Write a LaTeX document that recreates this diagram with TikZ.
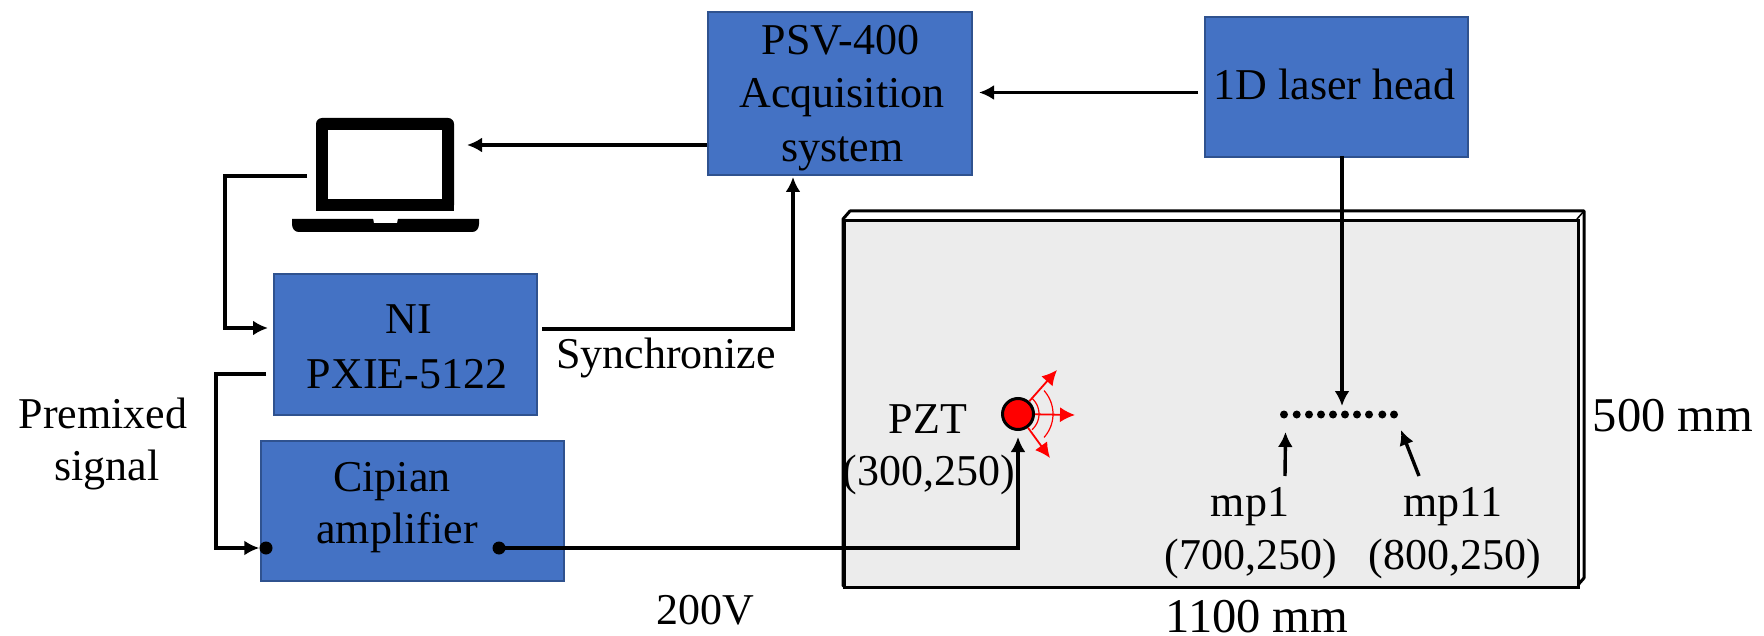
\documentclass[tikz,border=0pt]{standalone}
\usepackage{fontspec}
\setmainfont{Liberation Serif}
\usetikzlibrary{arrows.meta,calc}
\definecolor{boxblue}{HTML}{4472C4}
\definecolor{boxedge}{HTML}{2F528F}
\definecolor{plategrey}{HTML}{ECECEC}
\tikzset{
  x=1pt,y=-1pt,
  bluebox/.style={draw=boxedge,line width=1.6pt,fill=boxblue,inner sep=0pt,anchor=north west},
  lab/.style={inner sep=0pt,anchor=base,font=\fontsize{44}{44}\selectfont,text=black},
  dimlab/.style={inner sep=0pt,anchor=base,font=\fontsize{48.5}{48.5}\selectfont,text=black},
  conn/.style={line width=3.4pt,-{Latex[length=15pt,width=15pt]}},
  dotn/.style={circle,fill=black,inner sep=0pt,minimum size=#1},
  ray/.style={red,line width=1.8pt,-{Latex[length=15pt,width=15pt]}},
  wave/.style={red,line width=1.2pt},
}
\newcommand{\bx}[5]{\node[bluebox,minimum width=#4 pt,minimum height=#5 pt] (#1) at (#2,#3) {};}
\begin{document}
\begin{tikzpicture}
\useasboundingbox (0,0) rectangle (1764,636);
% plate
\filldraw[fill=white,draw=black,line width=3pt,line join=round] (843,219) -- (850,211) -- (1584,211) -- (1584,578) -- (1577,586) -- (843,586) -- cycle;
\node[draw=black,line width=3pt,fill=plategrey,inner sep=0pt,minimum width=734pt,minimum height=367pt,anchor=north west] (plate) at (843,219) {};
\draw[black,line width=1.5pt] (1577,219) -- (1584,211);
% boxes
\bx{psv}{707}{11}{264}{163}
\bx{head}{1204}{16}{263}{140}
\bx{ni}{273}{273}{263}{141}
\bx{amp}{260}{440}{303}{140}
% laptop
\fill[black,rounded corners=6pt] (316,211) -- (316,118) -- (454,118) -- (454,211) -- cycle;
\fill[black] (316,195) rectangle (454,211);
\fill[white] (328,130) rectangle (442,199);
\fill[black] (292,219) -- (479,219) -- (479,224) .. controls (479,229) and (476,232) .. (472,232) -- (299,232) .. controls (295,232) and (292,229) .. (292,224) -- cycle;
\fill[white] (373,218) -- (374,223) -- (397,223) -- (398,218) -- cycle;
% coordinates
\coordinate (lapL) at (307,176);
\coordinate (lapR) at (467,145);
\coordinate (niIn) at (268,328);
\coordinate (niOut) at (266,374);
\coordinate (niSync) at (542,329);
\coordinate (psvIn) at (793,177);
\coordinate (psvOut) at (707,145);
\coordinate (psvHead) at (979,92.5);
\coordinate (headL) at (1198,92.5);
\coordinate (headB) at (1342,156);
\coordinate (tip) at (1342,406);
\coordinate (pztTip) at (1018,437);
% connectors
\node[dotn=13pt] (ampA) at (266,548) {};
\node[dotn=13pt] (ampB) at (499,548) {};
\draw[conn] (psvOut) -- (lapR);
\draw[conn] (headL) -- (psvHead);
\draw[conn] (lapL) -- (225,176) -- (225,328) -- (niIn);
\draw[conn] (niSync) -- (793,329) -- (psvIn);
\draw[conn] (niOut) -- (216,374) -- (216,548) -- (ampA.west);
\draw[conn] (ampB.center) -- (1018,548) -- (pztTip);
\draw[conn] (headB) -- (tip);
% PZT
\node[circle,draw=black,line width=3pt,fill=red,inner sep=0pt,minimum size=31pt] (pzt) at (1018,414) {};
\coordinate (rayA) at (1075,415);
\coordinate (rayB) at (1057,370);
\coordinate (rayC) at (1050,458);
\draw[ray] (pzt) -- (rayA);
\draw[ray] (pzt) -- (rayB);
\draw[ray] (pzt) -- (rayC);
\draw[wave] plot[domain=-42:42,samples=21,smooth] ({1018+35*cos(\x)},{414+35*sin(\x)});
\draw[wave] plot[domain=-48:48,samples=21,smooth] ({1018+21*cos(\x)},{414+21*sin(\x)});
% measurement points
\foreach \i/\x in {1/1284,2/1296.7,3/1309,4/1321,5/1333,6/1345,7/1357,8/1369,9/1382.3,10/1394}
  \node[dotn=8pt] (mp\i) at (\x,414.5) {};
\coordinate (mpa) at (1285,476);
\coordinate (mpb) at (1285.5,432);
\coordinate (mpc) at (1419,476);
\coordinate (mpd) at (1401,430);
\draw[conn] (mpa) -- (mpb);
\draw[conn] (mpc) -- (mpd);
% labels
\node[lab] (t1) at (840.5,55) {PSV-400};
\node[lab] (t2) at (842,108) {Acquisition};
\node[lab] (t3) at (842.5,162) {system};
\node[lab] (t4) at (1334.5,100) {1D laser head};
\node[lab] (t5) at (409,334) {NI};
\node[lab] (t6) at (407,388) {PXIE-5122};
\node[lab] (t7) at (392,491) {Cipian};
\node[lab] (t8) at (397,543) {amplifier};
\node[lab] (t9) at (103,428) {Premixed};
\node[lab] (t10) at (107,480) {signal};
\node[lab] (t11) at (666,368) {Synchronize};
\node[lab] (t12) at (705,624) {200V};
\node[lab] (t13) at (928,433) {PZT};
\node[lab] (t14) at (929,485) {(300,250)};
\node[lab] (t15) at (1250,516) {mp1};
\node[lab] (t16) at (1251,569) {(700,250)};
\node[lab] (t17) at (1453,516) {mp11};
\node[lab] (t18) at (1454.5,569) {(800,250)};
\node[dimlab] (t19) at (1673,431) {500 mm};
\node[dimlab] (t20) at (1257,632) {1100 mm};
\end{tikzpicture}
\end{document}
